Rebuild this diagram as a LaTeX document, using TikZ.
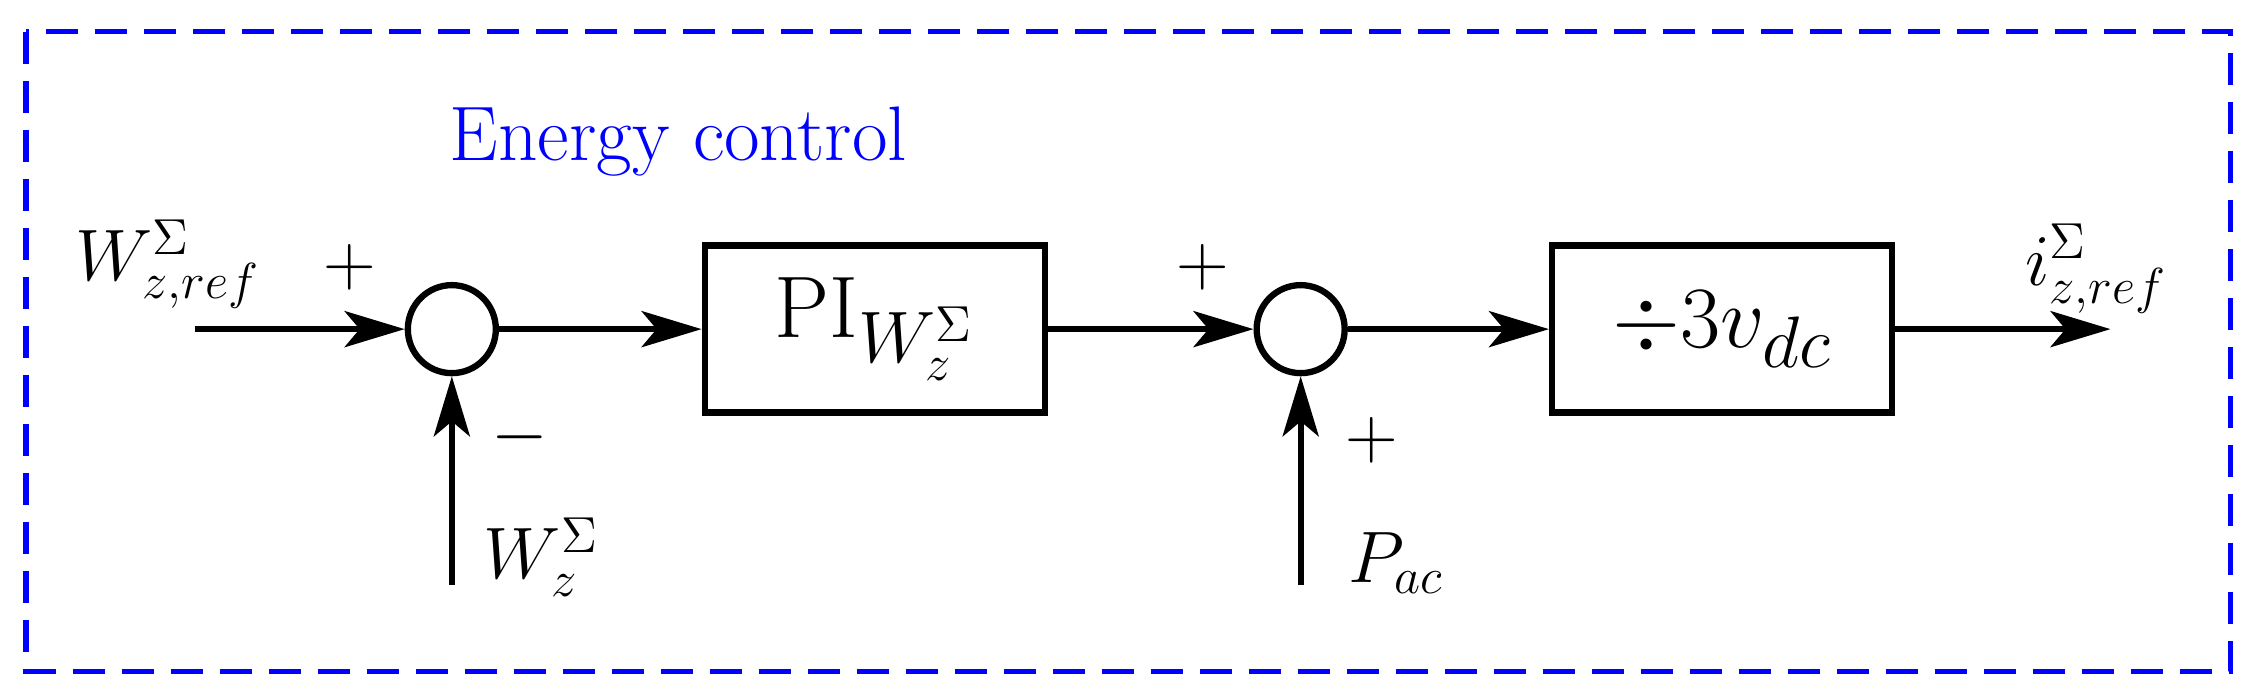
\documentclass[tikz,border=0pt]{standalone}
\usetikzlibrary{arrows.meta}
\begin{document}
\begin{tikzpicture}[x=0.014436cm,y=-0.014436cm,
  wire/.style={line width=1.8pt},
  arr/.style={wire,-{Stealth[length=0.6cm,width=0.36cm,inset=0.15cm]}},
  sum/.style={circle,draw,line width=1.8pt,minimum size=0.88cm,inner sep=0pt},
  blk/.style={draw,line width=1.8pt,minimum width=3.4cm,minimum height=1.67cm,inner sep=0pt,font=\fontsize{30}{33}\selectfont},
  lbl/.style={font=\fontsize{20}{22}\selectfont}]
\useasboundingbox (0,0) rectangle (1560,480);
\draw[blue,line width=1.5pt,dash pattern=on 0.32cm off 0.17cm] (18,22) rectangle (1545,465);
\node[blue,font=\fontsize{22}{24}\selectfont] (t) at (470,98) {Energy control};
\coordinate (in) at (135,228);
\node[sum] (s1) at (313,228) {};
\node[blk] (b1) at (606,228) {$\mathrm{PI}_{W_z^{\Sigma}}$};
\node[sum] (s2) at (901,228) {};
\node[blk] (b2) at (1193,228) {$\div 3v_{dc}$};
\coordinate (out) at (1462,228);
\coordinate (f1) at (313,405);
\coordinate (f2) at (901,405);
\draw[arr] (in) -- (s1);
\draw[arr] (s1) -- (b1);
\draw[arr] (b1) -- (s2);
\draw[arr] (s2) -- (b2);
\draw[arr] (b2) -- (out);
\draw[arr] (f1) -- (s1);
\draw[arr] (f2) -- (s2);
\node[lbl] (l1) at (116,183) {$W_{z,ref}^{\Sigma}$};
\node[lbl] (p1) at (242,185) {$+$};
\node[lbl] (m1) at (360,303) {$-$};
\node[lbl] (l2) at (375,386) {$W_z^{\Sigma}$};
\node[lbl] (p2) at (833,185) {$+$};
\node[lbl] (p3) at (950,305) {$+$};
\node[lbl] (l3) at (967,390) {$P_{ac}$};
\node[lbl] (l4) at (1452,186) {$i_{z,ref}^{\Sigma}$};
\end{tikzpicture}
\end{document}
